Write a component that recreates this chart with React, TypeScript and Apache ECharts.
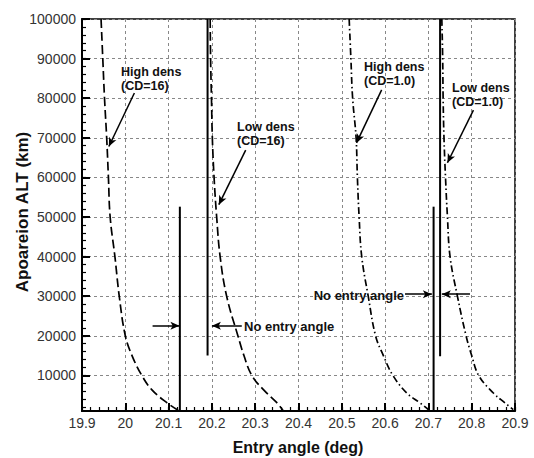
import React, { useEffect, useRef } from "react";
import * as echarts from "echarts";

// ---- axis ticks ----
const xTickValues = [19.9, 20, 20.1, 20.2, 20.3, 20.4, 20.5, 20.6, 20.7, 20.8, 20.9];
const yTickValues = [10000, 20000, 30000, 40000, 50000, 60000, 70000, 80000, 90000, 100000];

// ---- curves (entry angle deg, apoareion km) ----
const highDens16X = [19.944, 19.948, 19.952, 19.957, 19.961, 19.965, 19.976, 19.986, 20.0, 20.0155, 20.038, 20.061, 20.096, 20.122];
const highDens16Y = [100000, 90000, 80000, 70000, 60000, 50000, 40000, 30000, 20000, 15000, 10000, 6400, 3100, 1200];

const lowDens16X = [20.196, 20.197, 20.199, 20.201, 20.205, 20.211, 20.219, 20.234, 20.26, 20.274, 20.292, 20.319, 20.35, 20.364];
const lowDens16Y = [100000, 90000, 80000, 70000, 60000, 50000, 40000, 30000, 20000, 15000, 10000, 6400, 3100, 1200];

const highDens1X = [20.517, 20.521, 20.525, 20.533, 20.536, 20.54, 20.546, 20.561, 20.578, 20.596, 20.618, 20.65, 20.681, 20.7];
const highDens1Y = [100000, 90000, 80000, 70000, 60000, 50000, 40000, 30000, 20000, 15000, 10000, 5550, 3030, 1340];

const lowDens1X = [20.731, 20.733, 20.734, 20.736, 20.7395, 20.744, 20.75, 20.767, 20.787, 20.8, 20.816, 20.85, 20.877, 20.896];
const lowDens1Y = [100000, 90000, 80000, 70000, 60000, 50000, 40000, 30000, 20000, 15000, 10000, 5550, 3030, 1340];

// ---- "no entry angle" boundary lines ----
const noEntryX = [20.126, 20.19, 20.712, 20.727];
const noEntryYLow = [1000, 15000, 1000, 14800];
const noEntryYHigh = [52600, 100000, 52600, 100000];

// ---- annotation arrows ----
const labelArrowFrom = [[20.021, 81300], [20.278, 66900], [20.592, 82100], [20.804, 77000]];
const labelArrowTo = [[19.962, 67800], [20.216, 53100], [20.534, 68700], [20.744, 63700]];
const noEntryArrowFrom = [[20.063, 22500], [20.269, 22500], [20.646, 30500], [20.796, 30500]];
const noEntryArrowTo = [[20.125, 22500], [20.2, 22500], [20.708, 30500], [20.731, 30500]];

// ---- annotation texts ----
const labelLines1 = ["High dens", "Low dens", "High dens", "Low dens"];
const labelLines2 = ["(CD=16)", "(CD=16)", "(CD=1.0)", "(CD=1.0)"];
const noEntryText = "No entry angle";

const zip = (xs: number[], ys: number[]) => xs.map((x, i) => [x, ys[i]]);

const FONT = "Liberation Sans, Arial, sans-serif";

const xMinor: number[] = [];
for (let i = 0; i <= 50; i++) xMinor.push(Math.round((19.9 + i * 0.02) * 100) / 100);
const yMinor: number[] = [];
for (let v = 2000; v <= 100000; v += 2000) yMinor.push(v);

export default function App() {
  const ref = useRef<HTMLDivElement>(null);
  useEffect(() => {
    if (!ref.current) return;
    const chart = echarts.init(ref.current, undefined, { renderer: "svg" });

    const curve = (name: string, xs: number[], ys: number[], dash: number[]) => ({
      name,
      type: "line",
      data: zip(xs, ys),
      showSymbol: false,
      symbol: "none",
      smooth: 0.4,
      silent: true,
      z: 3,
      lineStyle: { color: "#000", width: 1.7, type: dash },
    });

    const vline = (i: number) => ({
      type: "line",
      data: [
        [noEntryX[i], noEntryYLow[i]],
        [noEntryX[i], noEntryYHigh[i]],
      ],
      showSymbol: false,
      symbol: "none",
      silent: true,
      z: 4,
      lineStyle: { color: "#000", width: 2 },
    });

    const arrows = [
      ...labelArrowFrom.map((f, i) => [{ coord: f }, { coord: labelArrowTo[i] }]),
      ...noEntryArrowFrom.map((f, i) => [{ coord: f }, { coord: noEntryArrowTo[i] }]),
    ];

    const txt = (text: string, x: number, y: number, align = "left", size = 12.5) => ({
      type: "text",
      x,
      y,
      z: 10,
      style: {
        text,
        fontFamily: FONT,
        fontWeight: "bold",
        fontSize: size,
        fill: "#111",
        align,
        textAlign: align,
        verticalAlign: "middle",
        textVerticalAlign: "middle",
      },
    });

    const labelPos = [
      [121, 72],
      [237, 127],
      [364, 67],
      [452, 88],
    ];

    const tickLine = { color: "#000", width: 2 };

    chart.setOption({
      animation: false,
      grid: {
        left: 82,
        right: 19,
        top: 19,
        bottom: 47,
        show: true,
        borderColor: "#000",
        borderWidth: 1.5,
        outerBoundsMode: "none",
      },
      xAxis: [
        {
          type: "value",
          min: 19.9,
          max: 20.9,
          position: "bottom",
          axisLine: { show: true, onZero: false, lineStyle: { color: "#000", width: 2 } },
          axisTick: { show: true, inside: true, length: 8, customValues: xTickValues, lineStyle: tickLine },
          axisLabel: {
            customValues: xTickValues,
            formatter: (v: number) => String(Math.round(v * 10) / 10),
            color: "#333",
            fontSize: 14,
            fontFamily: FONT,
            margin: 5,
          },
          splitLine: { show: true, lineStyle: { color: "#888", type: [3, 3], width: 1 } },
        },
        {
          type: "value",
          min: 19.9,
          max: 20.9,
          position: "bottom",
          axisLine: { show: false },
          axisTick: { show: true, inside: true, length: 4, customValues: xMinor, lineStyle: { color: "#000", width: 1.2 } },
          axisLabel: { show: false },
          splitLine: { show: false },
        },
      ],
      yAxis: [
        {
          type: "value",
          min: 1000,
          max: 100000,
          position: "left",
          axisLine: { show: true, onZero: false, lineStyle: { color: "#000", width: 2 } },
          axisTick: { show: true, inside: true, length: 8, customValues: yTickValues, lineStyle: tickLine },
          axisLabel: {
            customValues: yTickValues,
            formatter: (v: number) => String(v),
            color: "#333",
            fontSize: 14,
            fontFamily: FONT,
            margin: 6,
          },
          splitLine: { show: true, lineStyle: { color: "#888", type: [3, 3], width: 1 } },
        },
        {
          type: "value",
          min: 1000,
          max: 100000,
          position: "left",
          axisLine: { show: false },
          axisTick: { show: true, inside: true, length: 4, customValues: yMinor, lineStyle: { color: "#000", width: 1.2 } },
          axisLabel: { show: false },
          splitLine: { show: false },
        },
      ],
      series: [
        curve("High dens (CD=16)", highDens16X, highDens16Y, [9, 4]),
        curve("Low dens (CD=16)", lowDens16X, lowDens16Y, [9, 4]),
        curve("High dens (CD=1.0)", highDens1X, highDens1Y, [7, 3, 1.5, 3]),
        curve("Low dens (CD=1.0)", lowDens1X, lowDens1Y, [7, 3, 1.5, 3]),
        vline(0),
        vline(1),
        vline(2),
        {
          ...vline(3),
          markLine: {
            silent: true,
            animation: false,
            symbol: ["none", "arrow"],
            symbolSize: [6, 9],
            label: { show: false },
            lineStyle: { color: "#000", width: 1.5, type: "solid" },
            data: arrows,
          },
        },
      ],
      graphic: [
        ...labelPos.map((p, i) => txt(labelLines1[i], p[0], p[1])),
        ...labelPos.map((p, i) => txt(labelLines2[i], p[0], p[1] + 13.5)),
        txt(noEntryText, 244, 326, "left", 13),
        txt(noEntryText, 404, 295, "right", 13),
        {
          type: "text",
          x: 298,
          y: 447,
          style: { text: "Entry angle (deg)", fontFamily: FONT, fontWeight: "bold", fontSize: 16, fill: "#111", align: "center", textAlign: "center", verticalAlign: "middle", textVerticalAlign: "middle" },
        },
        {
          type: "text",
          x: 22,
          y: 212,
          rotation: Math.PI / 2,
          style: { text: "Apoareion ALT (km)", fontFamily: FONT, fontWeight: "bold", fontSize: 17, fill: "#111", align: "center", textAlign: "center", verticalAlign: "middle", textVerticalAlign: "middle" },
        },
      ],
    });
    return () => chart.dispose();
  }, []);

  return (
    <div
      ref={ref}
      style={{ position: "fixed", left: 0, top: 0, width: 534, height: 458, background: "#fff" }}
    />
  );
}
